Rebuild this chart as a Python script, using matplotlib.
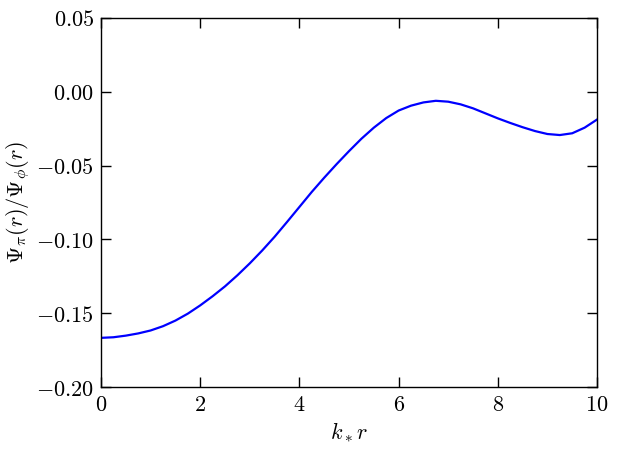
import numpy as np
import matplotlib
matplotlib.use("Agg")
import matplotlib.pyplot as plt
from matplotlib.ticker import FuncFormatter, MultipleLocator

plt.rcParams['mathtext.fontset'] = 'cm'
plt.rcParams['font.family'] = 'serif'

# k_* r et rapport Psi_pi / Psi_phi
kr = [0.0, 0.25, 0.5, 0.75, 1.0, 1.25, 1.5, 1.75, 2.0, 2.25, 2.5, 2.75,
      3.0, 3.25, 3.5, 3.75, 4.0, 4.25, 4.5, 4.75, 5.0, 5.25, 5.5, 5.75,
      6.0, 6.25, 6.5, 6.75, 7.0, 7.25, 7.5, 7.75, 8.0, 8.25, 8.5, 8.75,
      9.0, 9.25, 9.5, 9.75, 10.0]
ratio = [-0.1667, -0.1663, -0.1652, -0.1637, -0.1617, -0.1588, -0.1550,
         -0.1503, -0.1447, -0.1385, -0.1318, -0.1243, -0.1162, -0.1075,
         -0.0982, -0.0882, -0.0780, -0.0678, -0.0582, -0.0490, -0.0402,
         -0.0318, -0.0243, -0.0178, -0.0127, -0.0094, -0.0072, -0.0061,
         -0.0067, -0.0085, -0.0112, -0.0146, -0.0180, -0.0211, -0.0240,
         -0.0266, -0.0286, -0.0293, -0.0281, -0.0243, -0.0188]

fig = plt.figure(figsize=(6.19, 4.51), dpi=100)
ax = fig.add_axes([0.1632, 0.1419, 0.8013, 0.8182])

ax.plot(kr, ratio, color='#0000ff', lw=1.6)

ax.set_xlim(0, 10)
ax.set_ylim(-0.20, 0.05)
ax.xaxis.set_major_locator(MultipleLocator(2))
ax.yaxis.set_major_locator(MultipleLocator(0.05))
ax.xaxis.set_major_formatter(FuncFormatter(lambda v, p: r'$%d$' % round(v)))
ax.yaxis.set_major_formatter(FuncFormatter(lambda v, p: r'$%.2f$' % (0.0 if abs(v) < 1e-9 else v)))

ax.tick_params(which='major', direction='in', length=7, width=1.0,
               top=True, right=True, labelsize=16, pad=5)
for s in ax.spines.values():
    s.set_linewidth(1.0)

ax.set_xlabel(r'$k_* r$', fontsize=16, labelpad=3)
ax.set_ylabel(r'$\Psi_\pi(r)/\Psi_\phi(r)$', fontsize=16, labelpad=3)

fig.savefig('out.png', dpi=100)
